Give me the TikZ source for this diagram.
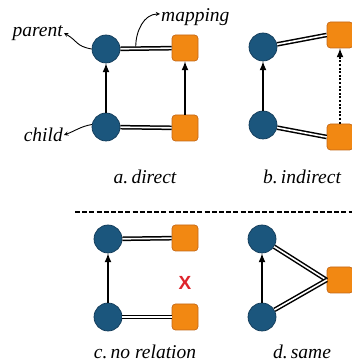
\documentclass[tikz,border=0pt]{standalone}
\usepackage{fontspec}
\setmainfont{Liberation Serif}
\newfontfamily\xfont{Liberation Sans}
\usetikzlibrary{positioning, calc, arrows}
\definecolor{entblue}{RGB}{27,86,125}
\definecolor{entrim}{RGB}{18,58,88}
\definecolor{maporange}{RGB}{242,136,18}
\definecolor{maprim}{RGB}{196,104,24}
\definecolor{crossred}{RGB}{222,36,44}
\tikzset{entity/.style={circle, fill=entblue, draw=entrim, line width=0.7pt, minimum size=28pt, inner sep=0pt}}
\tikzset{mapped/.style={rectangle, rounded corners=3.5pt, fill=maporange, draw=maprim, line width=0.7pt, minimum size=26pt, inner sep=0pt}}
\tikzset{assoc/.style={double, double distance=1.6pt, line width=1.5pt}}
\tikzset{sub/.style={-latex, line width=2pt}}
\tikzset{note/.style={-stealth, line width=0.9pt}}
\tikzset{caption/.style={font=\fontsize{19.5}{21}\selectfont\itshape, inner sep=1pt}}

\begin{document}
\begin{tikzpicture}[x=1pt, y=1pt]
      \useasboundingbox (0,0) rectangle (352,363);

      % a. direct
      \node[entity] (pa) at (106,314) {};
      \node[entity] (ca) at (106,236) {};
      \node[mapped] (ma) at (185,315) {};
      \node[mapped] (mb) at (185,235) {};
      \draw[assoc] (pa) -- (ma);
      \draw[assoc] (ca) -- (mb);
      \draw[sub] (ca) -- (pa);
      \draw[sub] (mb) -- (ma);

      \node[caption, anchor=east] (parentlbl) at (64,330) {parent};
      \node[caption, anchor=east] (childlbl) at (64,228) {child};
      \node[caption, anchor=west] (maplbl) at (160,346) {mapping};
      \coordinate (mapfoot) at ($(pa.east)!0.3!(ma.west)+(0,2)$);
      \draw[note] (pa.west) to[out=170, in=-30, looseness=1.3] (parentlbl.east);
      \draw[note] (ca.170) to[out=190, in=20] (childlbl.east);
      \draw[note] (mapfoot) to[out=90, in=180] ($(maplbl.west)+(0,3)$);
      \node[caption] (capa) at (145,186) {a.\,direct};

      % b. indirect
      \node[entity] (pb) at (263,316) {};
      \node[entity] (cb) at (263,238) {};
      \node[mapped] (sb1) at (340,328) {};
      \node[mapped] (sb2) at (340,226) {};
      \draw[assoc] (pb) -- (sb1.west);
      \draw[assoc] (cb) -- (sb2.west);
      \draw[sub] (cb) -- (pb);
      \draw[-latex, line width=2pt, dash pattern=on 2pt off 1.6pt] (sb2) -- (sb1);
      \node[caption] (capb) at (302,186) {b.\,indirect};

      \draw[line width=2pt, dash pattern=on 5pt off 2.2pt] (75,151) -- (352,151);

      % c. no relation
      \node[entity] (pc) at (108,124) {};
      \node[entity] (cc) at (108,46) {};
      \node[mapped] (sc1) at (185,125) {};
      \node[mapped] (sc2) at (185,46) {};
      \draw[assoc] (pc) -- (sc1);
      \draw[assoc] (cc) -- (sc2);
      \draw[sub] (cc) -- (pc);
      \node[text=crossred, font=\xfont\bfseries\fontsize{19}{19}\selectfont] (nox) at (185,80) {X};
      \node[caption] (capc) at (145,11) {c.\,no relation};

      % d. same
      \node[entity] (pd) at (262,124) {};
      \node[entity] (cd) at (262,46) {};
      \node[mapped] (sd) at (340,83) {};
      \draw[assoc] (pd) -- (sd.west);
      \draw[assoc] (cd) -- (sd.west);
      \draw[sub] (cd) -- (pd);
      \node[caption] (capd) at (302,11) {d.\,same};

    \end{tikzpicture}
\end{document}
